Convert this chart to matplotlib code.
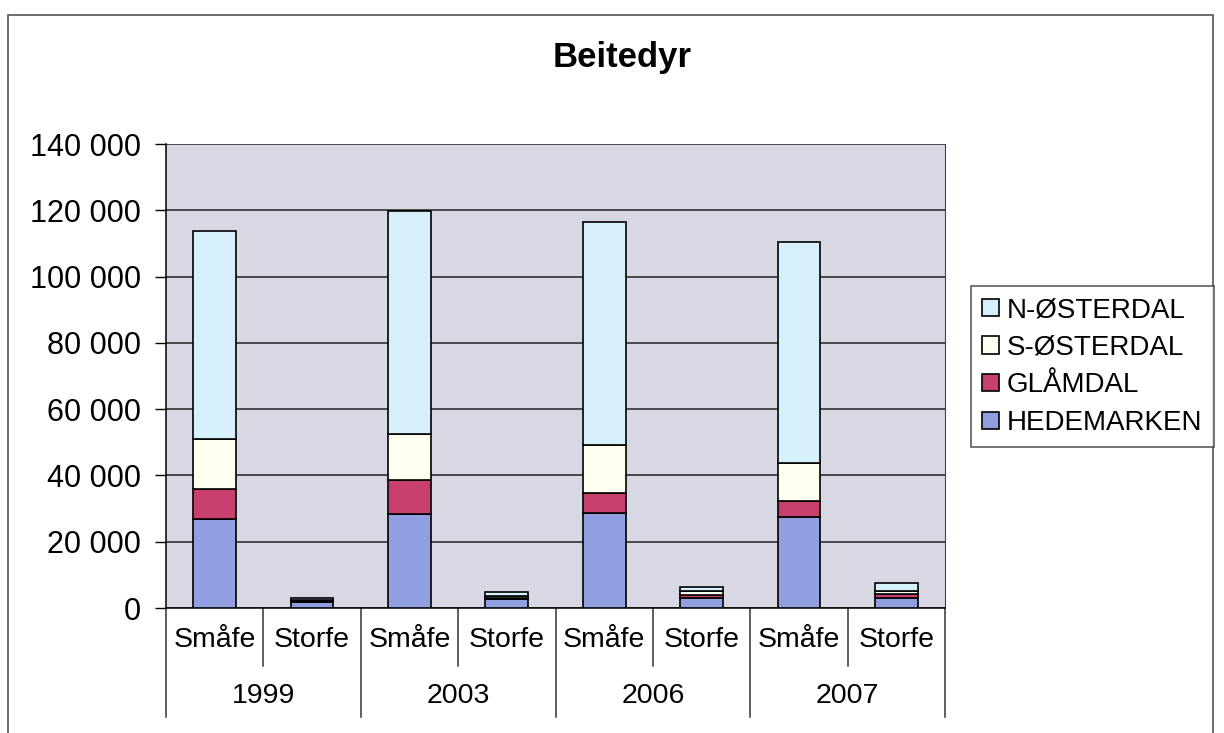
import matplotlib.pyplot as plt
from matplotlib.patches import Rectangle
import numpy as np

plt.rcParams['font.family'] = ['Liberation Sans', 'DejaVu Sans']

years = ["1999", "2003", "2006", "2007"]
kinds = ["Småfe", "Storfe"]
regions = ["HEDEMARKEN", "GLÅMDAL", "S-ØSTERDAL", "N-ØSTERDAL"]

# order: 1999 Småfe, 1999 Storfe, 2003 Småfe, ...
hedemarken = [27000, 1800, 28400, 2600, 28700, 3000, 27500, 3000]
glamdal = [9000, 300, 10300, 400, 6100, 1000, 4900, 1300]
s_osterdal = [15000, 400, 13900, 600, 14500, 1000, 11400, 800]
n_osterdal = [62700, 600, 67100, 1200, 67100, 1300, 66600, 2400]

colors = ["#919fe0", "#c8406e", "#fffff0", "#d5effb"]

fig = plt.figure(figsize=(12.24, 7.33), dpi=100)
fig.patches.append(Rectangle((8 / 1224, -0.01), 1205 / 1224, 1 - 15 / 733 + 0.01,
                             transform=fig.transFigure, fill=False,
                             edgecolor="#555555", linewidth=1.2))
ax = fig.add_axes([166 / 1224, 1 - 608 / 733, (945 - 166) / 1224, (608 - 144) / 733])
ax.set_facecolor("#d8d8e4")

x = np.arange(len(hedemarken))
bottom = np.zeros(len(x))
bars = []
for name, vals, c in zip(regions, [hedemarken, glamdal, s_osterdal, n_osterdal], colors):
    b = ax.bar(x, vals, 0.44, bottom=bottom, color=c, edgecolor="black",
               linewidth=1.2, label=name, zorder=3)
    bars.append(b)
    bottom += np.array(vals)

ax.set_xlim(-0.5, len(x) - 0.5)
ax.set_ylim(0, 140000)
ax.set_yticks(np.arange(0, 140001, 20000))
ax.set_yticklabels([f"{v:,}".replace(",", " ") for v in range(0, 140001, 20000)], fontsize=22)
ax.yaxis.grid(True, color="#222222", linewidth=1.1, zorder=1)
ax.tick_params(axis="y", length=8, width=1, pad=10)
ax.set_xticks([])
ax.spines["top"].set_visible(False)
ax.spines["right"].set_color("#444444")
ax.spines["left"].set_linewidth(1.1)
ax.spines["bottom"].set_linewidth(1.1)

tr = ax.get_xaxis_transform()
for i in range(len(x)):
    ax.text(x[i], -0.07, kinds[i % 2], transform=tr, ha="center", va="center", fontsize=20.5)
for j, yr in enumerate(years):
    ax.text(2 * j + 0.5, -0.19, yr, transform=tr, ha="center", va="center", fontsize=20.5)
# separators under axis
for k in range(len(x) + 1):
    xp = k - 0.5
    y_end = -0.235 if k % 2 == 0 else -0.125
    ax.plot([xp, xp], [0, y_end], transform=tr, color="#333333", linewidth=1.1, clip_on=False)

handles = bars[::-1]
leg = fig.legend(handles, regions[::-1], loc="upper left",
                 bbox_to_anchor=(971 / 1224, 1 - 286 / 733), fontsize=20,
                 frameon=True, fancybox=False, edgecolor="#333333",
                 handlelength=0.6, handleheight=0.6, handletextpad=0.3,
                 labelspacing=0.42, borderpad=0.4, borderaxespad=0)
leg.get_frame().set_linewidth(1.2)

fig.text(622 / 1224, 1 - 57 / 733, "Beitedyr", ha="center", va="center",
         fontsize=25, fontweight="bold")

fig.savefig("out.png", dpi=100)
